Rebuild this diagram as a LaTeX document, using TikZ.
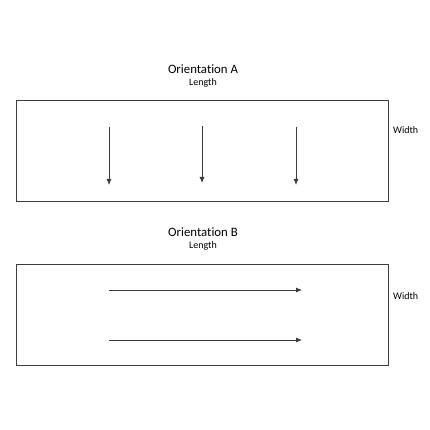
\documentclass[tikz,border=0pt]{standalone}
\usepackage{fontspec}
\setmainfont{Carlito}[Ligatures=NoCommon]
\usetikzlibrary{arrows.meta,positioning}
\definecolor{edgecol}{RGB}{60,60,60}
\tikzset{
  panel/.style ={rectangle, draw=edgecol, line width=0.9pt, minimum width=372pt,
                 minimum height=101pt, inner sep=0pt},
  title/.style ={font=\fontsize{12.8}{14}\selectfont, inner sep=0pt},
  sub/.style   ={font=\fontsize{10}{11}\selectfont, inner sep=0pt},
  side/.style  ={font=\fontsize{10}{11}\selectfont, inner sep=0pt, anchor=west},
  dir/.style   ={-{Latex[length=6pt,width=5pt]}, draw=edgecol, line width=0.8pt},
}
\begin{document}
\begin{tikzpicture}[x=1pt,y=-1pt]
    \useasboundingbox[fill=white] (0,0) rectangle (430,430);

    % orientation A
    \node[title] (tA) at (203,69) {Orientation A};
    \node[sub, below=4.5pt of tA] (lA) {Length};
    \node[panel] (pA) at (202,150.5) {};
    \node[side] (wA) at (393,130) {Width};
    \coordinate (a1s) at (109,127); \coordinate (a1e) at (109,185);
    \coordinate (a2s) at (202,126); \coordinate (a2e) at (202,183);
    \coordinate (a3s) at (296,127); \coordinate (a3e) at (296,185);
    \draw[dir] (a1s) -- (a1e);
    \draw[dir] (a2s) -- (a2e);
    \draw[dir] (a3s) -- (a3e);

    % orientation B
    \node[title] (tB) at (203,232) {Orientation B};
    \node[sub, below=4.5pt of tB] (lB) {Length};
    \node[panel] (pB) at (202,315) {};
    \node[side] (wB) at (393,296) {Width};
    \coordinate (b1s) at (109,290); \coordinate (b1e) at (302,290);
    \coordinate (b2s) at (109,340); \coordinate (b2e) at (302,340);
    \draw[dir] (b1s) -- (b1e);
    \draw[dir] (b2s) -- (b2e);
  \end{tikzpicture}
\end{document}
